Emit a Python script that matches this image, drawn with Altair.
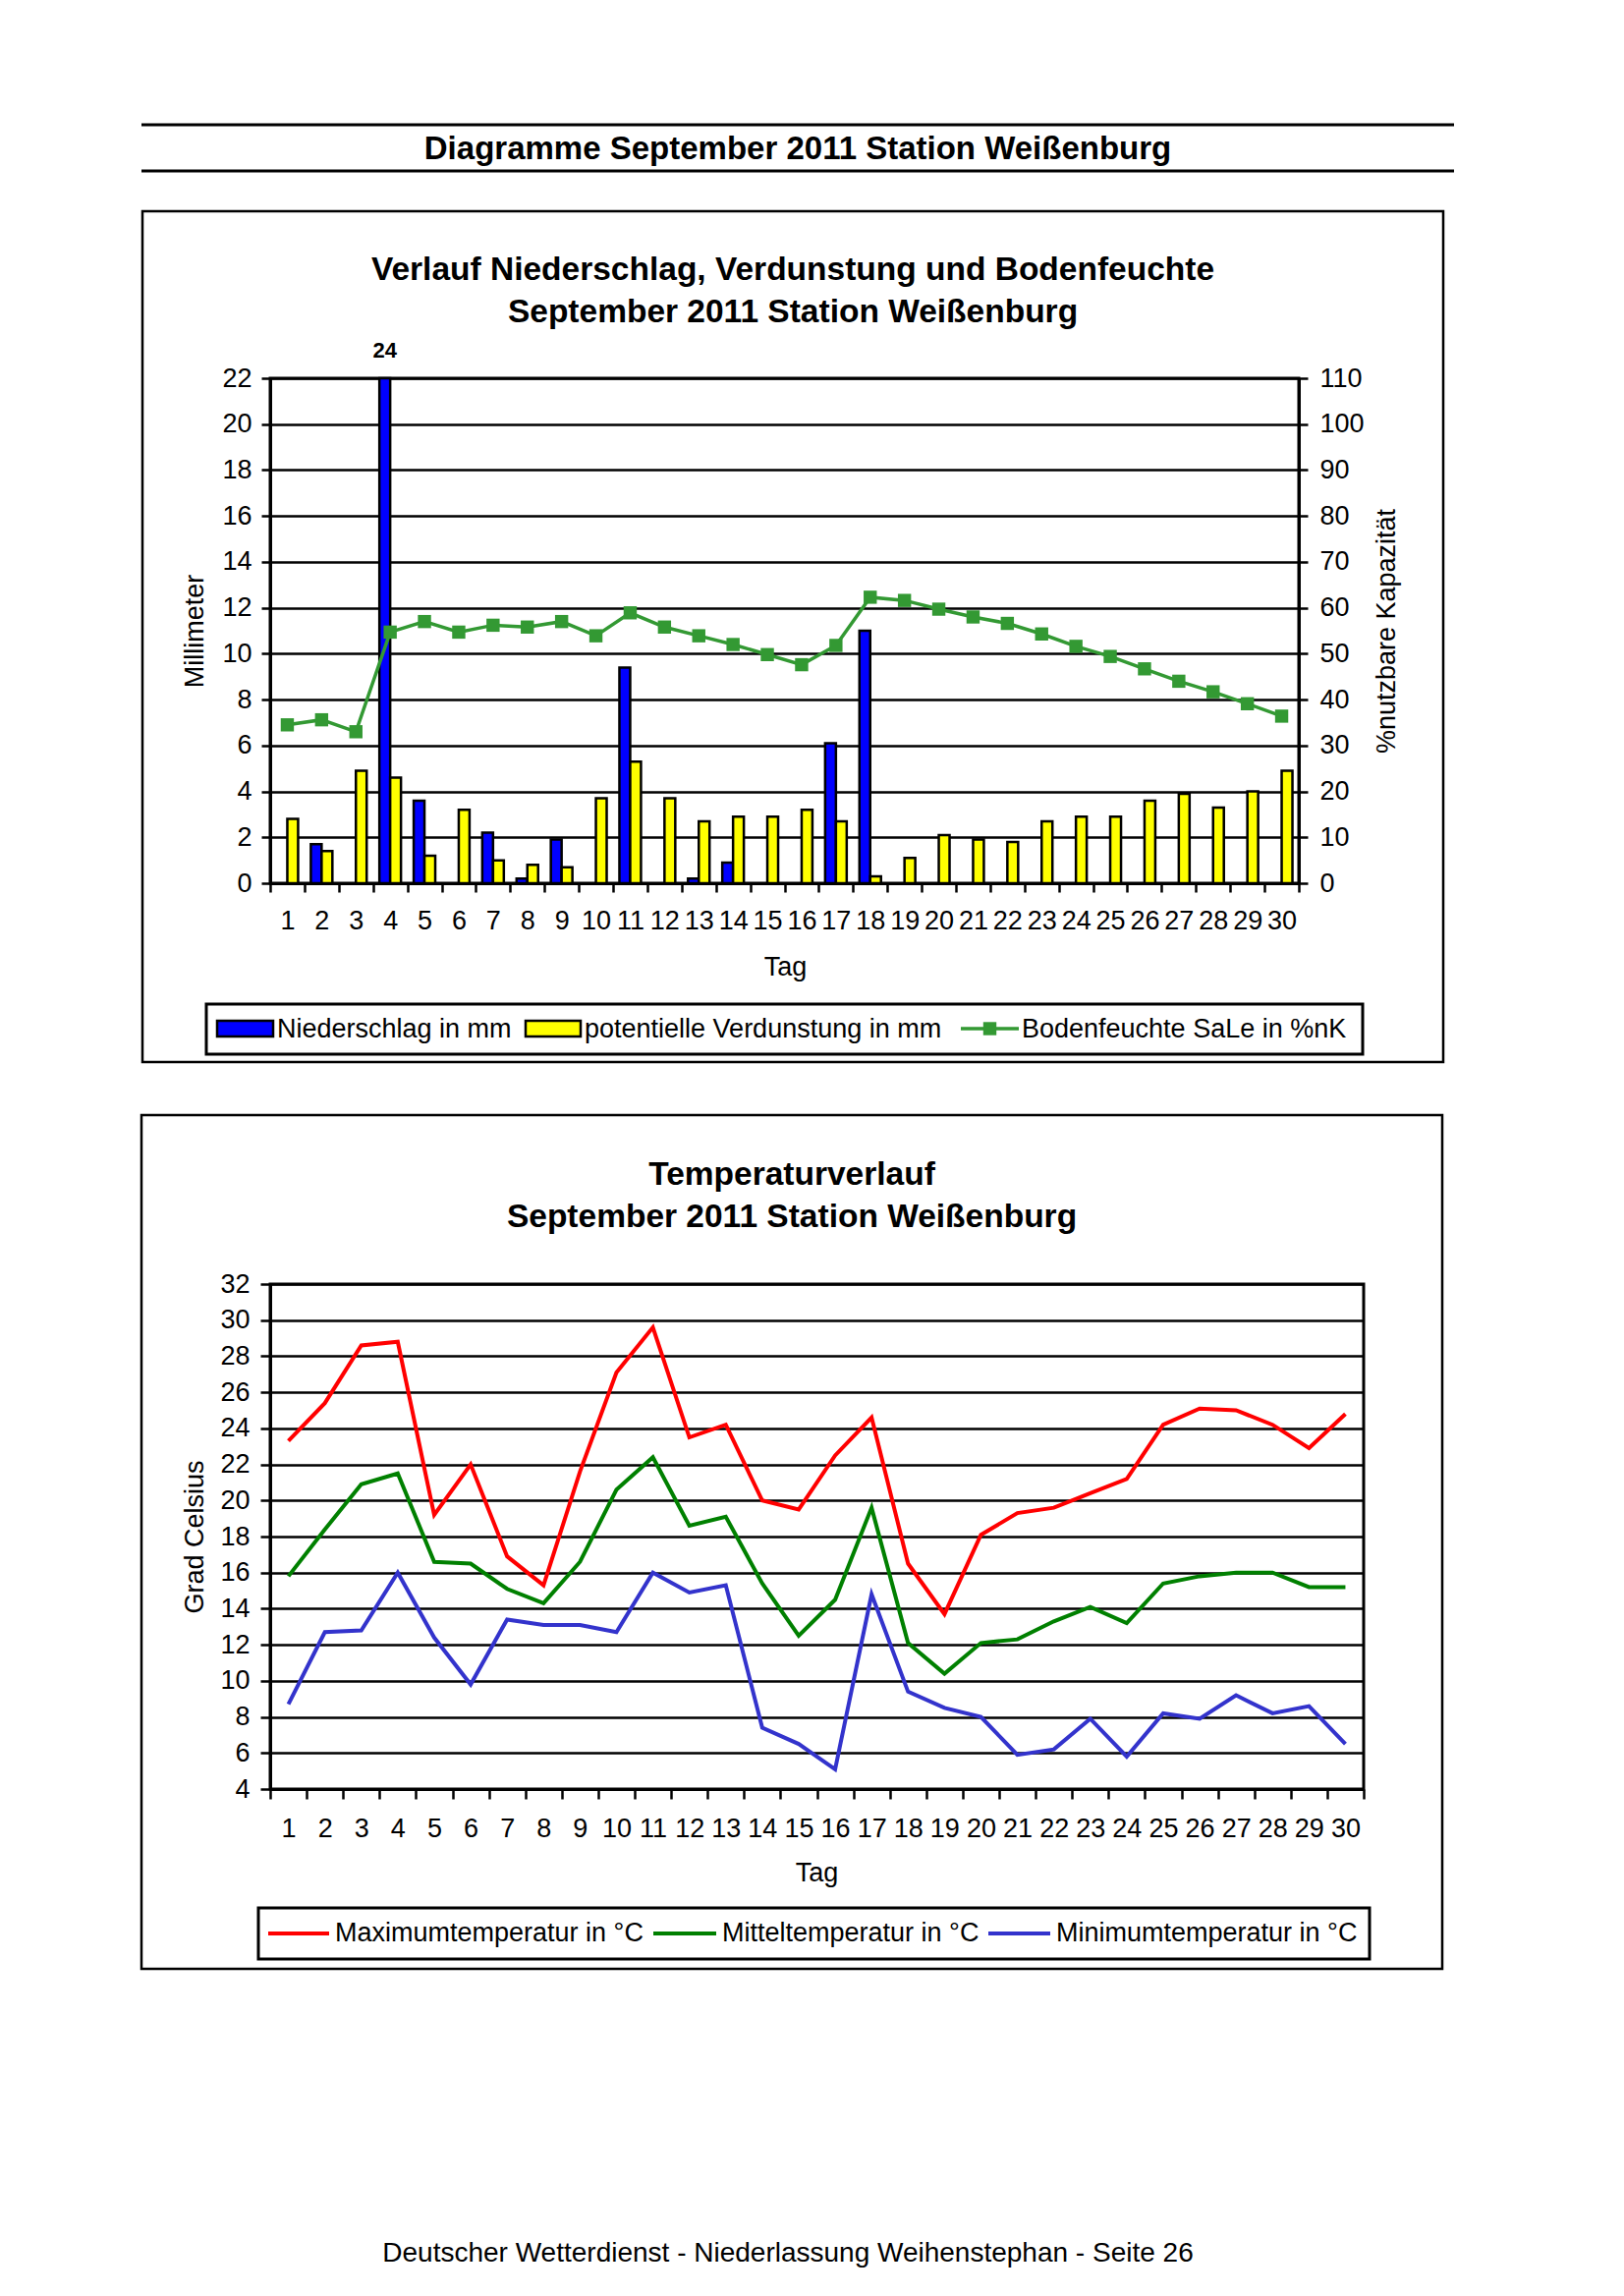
import altair as alt
import pandas as pd

# ---------------- data ----------------
days = list(range(1, 31))
niederschlag = [0, 1.7, 0, 24, 3.6, 0, 2.2, 0.2, 1.9, 0, 9.4, 0, 0.2, 0.9, 0,
                0, 6.1, 11.0, 0, 0, 0, 0, 0, 0, 0, 0, 0, 0, 0, 0]
verdunstung = [2.8, 1.4, 4.9, 4.6, 1.2, 3.2, 1.0, 0.8, 0.7, 3.7, 5.3, 3.7, 2.7, 2.9, 2.9,
               3.2, 2.7, 0.3, 1.1, 2.1, 1.9, 1.8, 2.7, 2.9, 2.9, 3.6, 3.9, 3.3, 4.0, 4.9]
bodenfeuchte = [34.5, 35.6, 33.0, 54.7, 57.0, 54.7, 56.2, 55.8, 57.0, 53.9, 58.9, 55.8, 53.9, 52.0, 49.8,
                47.6, 51.8, 62.3, 61.6, 59.7, 58.0, 56.6, 54.3, 51.6, 49.4, 46.7, 44.0, 41.7, 39.1, 36.4]
tmax = [23.3, 25.4, 28.6, 28.8, 19.2, 22.0, 16.9, 15.3, 21.6, 27.1, 29.6, 23.5, 24.2, 20.0, 19.5,
        22.5, 24.6, 16.5, 13.7, 18.1, 19.3, 19.6, 20.4, 21.2, 24.2, 25.1, 25.0, 24.2, 22.9, 24.8]
tmean = [15.8, 18.4, 20.9, 21.5, 16.6, 16.5, 15.1, 14.3, 16.6, 20.6, 22.4, 18.6, 19.1, 15.4, 12.5,
         14.5, 19.6, 12.1, 10.4, 12.1, 12.3, 13.3, 14.1, 13.2, 15.4, 15.8, 16.0, 16.0, 15.2, 15.2]
tmin = [8.7, 12.7, 12.8, 16.0, 12.4, 9.8, 13.4, 13.1, 13.1, 12.7, 16.0, 14.9, 15.3, 7.4, 6.5,
        5.1, 14.8, 9.4, 8.5, 8.0, 5.9, 6.2, 7.9, 5.8, 8.2, 7.9, 9.2, 8.2, 8.6, 6.5]

bar_names = ["Niederschlag in mm", "potentielle Verdunstung in mm"]
soil_name = "Bodenfeuchte SaLe in %nK"
temp_names = ["Maximumtemperatur in °C", "Mitteltemperatur in °C", "Minimumtemperatur in °C"]
bar_colors = ["#0000FF", "#FFFF00"]
soil_color = "#339933"
temp_colors = ["#FF0000", "#008000", "#3333CC"]

page_title = "Diagramme September 2011 Station Weißenburg"
title1 = ["Verlauf Niederschlag, Verdunstung und Bodenfeuchte", "September 2011 Station Weißenburg"]
title2 = ["Temperaturverlauf", "September 2011 Station Weißenburg"]
footer = "Deutscher Wetterdienst - Niederlassung Weihenstephan - Seite 26"
mm_ticks = list(range(0, 23, 2))
pct_ticks = list(range(0, 111, 10))
temp_ticks = list(range(4, 33, 2))

FONT = "Liberation Sans"
one = pd.DataFrame({"k": [0]})


# ---------------- decoration helpers ----------------
def spacer(x, x2, y, y2):
    return alt.Chart(one).mark_rect(fill="white", fillOpacity=0, strokeOpacity=0).encode(
        x=alt.value(x), x2=alt.value(x2), y=alt.value(y), y2=alt.value(y2))


def box(x, x2, y, y2, sw=2.5, fill="white", fill_opacity=0.0):
    return alt.Chart(one).mark_rect(fill=fill, fillOpacity=fill_opacity, stroke="black", strokeWidth=sw).encode(
        x=alt.value(x), x2=alt.value(x2), y=alt.value(y), y2=alt.value(y2))


def hline(x, x2, y, color="black", sw=3):
    return alt.Chart(one).mark_rule(color=color, strokeWidth=sw).encode(
        x=alt.value(x), x2=alt.value(x2), y=alt.value(y))


def label(x, y, txt, size=27, bold=False, align="left"):
    return alt.Chart(one).mark_text(font=FONT, fontSize=size, fontWeight="bold" if bold else "normal",
                                    align=align, baseline="alphabetic", color="black").encode(
        x=alt.value(x), y=alt.value(y), text=alt.value(txt))


# ---------------- chart 1 ----------------
bars_df = pd.DataFrame({
    "Tag": days * 2,
    "Reihe": [bar_names[0]] * 30 + [bar_names[1]] * 30,
    "Wert": niederschlag + verdunstung,
})
soil_df = pd.DataFrame({"Tag": days, "Feuchte": bodenfeuchte})

x1 = alt.X("Tag:O", title="Tag", scale=alt.Scale(paddingInner=0, paddingOuter=0),
           axis=alt.Axis(labelAngle=0, tickBand="extent", tickSize=9, labelPadding=16, grid=False,
                         titleX=524, titleY=93, titleBaseline="alphabetic"))
xoff = alt.XOffset("Reihe:N", scale=alt.Scale(domain=bar_names, paddingInner=0, paddingOuter=0.59))
mm_scale = alt.Scale(domain=[0, 22], nice=False, clamp=True)

bars = alt.Chart(bars_df).transform_filter("datum.Wert > 0").mark_bar(
    stroke="black", strokeWidth=2.5).encode(
    x=x1,
    xOffset=xoff,
    y=alt.Y("Wert:Q", title="Millimeter", scale=mm_scale,
            axis=alt.Axis(values=mm_ticks, tickSize=9, labelPadding=10, grid=True,
                          titleX=-69, titleY=257, titleBaseline="alphabetic", titleAngle=270)),
    color=alt.Color("Reihe:N", scale=alt.Scale(domain=bar_names, range=bar_colors), legend=None),
)

over = alt.Chart(bars_df).transform_filter("datum.Wert > 22").mark_text(
    font=FONT, fontSize=22, fontWeight="bold", baseline="middle", dy=-28, color="black").encode(
    x=x1,
    xOffset=xoff,
    y=alt.Y("Wert:Q", scale=mm_scale, axis=None),
    text=alt.Text("Wert:Q", format="d"),
)

soil = alt.Chart(soil_df).mark_line(
    color=soil_color, strokeWidth=3.5,
    point=alt.OverlayMarkDef(shape="square", size=180, filled=True, color=soil_color, opacity=1)).encode(
    x=x1,
    y=alt.Y("Feuchte:Q", title="%nutzbare Kapazität", scale=alt.Scale(domain=[0, 110], nice=False),
            axis=alt.Axis(orient="right", values=pct_ticks, tickSize=9, labelPadding=12, grid=False,
                          titleX=97, titleY=257, titleBaseline="alphabetic", titleAngle=270)),
)

legend1 = [
    box(-65, 1112, 637, 688, sw=3),
    box(-54, 3, 654, 670, sw=2.5, fill=bar_colors[0], fill_opacity=1),
    label(7, 671, bar_names[0]),
    box(260, 316, 654, 670, sw=2.5, fill=bar_colors[1], fill_opacity=1),
    label(320, 671, bar_names[1]),
    hline(703, 762, 662, color=soil_color, sw=3.5),
    alt.Chart(one).mark_point(shape="square", size=180, filled=True, color=soil_color, opacity=1).encode(
        x=alt.value(732.5), y=alt.value(662)),
    label(765, 671, soil_name),
]

chart1 = alt.layer(
    spacer(-264, 1300, -375.5, 715),
    hline(-131, 1205, -258), hline(-131, 1205, -211),
    label(537, -223, page_title, 33, True, "center"),
    box(-130, 1194, -170, 696, sw=2.5),
    label(532, -100, title1[0], 33.5, True, "center"),
    label(532, -57, title1[1], 33.5, True, "center"),
    bars, over, soil,
    *legend1,
).resolve_scale(y="independent").properties(width=1047, height=514)

# ---------------- chart 2 ----------------
temp_df = pd.DataFrame({
    "Tag": days * 3,
    "Messreihe": [temp_names[0]] * 30 + [temp_names[1]] * 30 + [temp_names[2]] * 30,
    "Temperatur": tmax + tmean + tmin,
})

x2 = alt.X("Tag:O", title="Tag", scale=alt.Scale(paddingInner=0, paddingOuter=0),
           axis=alt.Axis(labelAngle=0, tickBand="extent", tickSize=10, labelPadding=17, grid=False,
                         titleX=556, titleY=93.5, titleBaseline="alphabetic"))

lines = alt.Chart(temp_df).mark_line(strokeWidth=4).encode(
    x=x2,
    y=alt.Y("Temperatur:Q", title="Grad Celsius", scale=alt.Scale(domain=[4, 32], nice=False),
            axis=alt.Axis(values=temp_ticks, tickSize=10, labelPadding=11, grid=True,
                          titleX=-69, titleY=257, titleBaseline="alphabetic", titleAngle=270)),
    color=alt.Color("Messreihe:N", scale=alt.Scale(domain=temp_names, range=temp_colors), legend=None),
)

legend2 = [
    box(-12, 1119, 635, 687, sw=3),
    hline(-2, 60, 661, color=temp_colors[0], sw=4),
    label(66, 669, temp_names[0]),
    hline(390, 454, 661, color=temp_colors[1], sw=4),
    label(460, 669, temp_names[1]),
    hline(731, 794, 661, color=temp_colors[2], sw=4),
    label(800, 669, temp_names[2]),
]

chart2 = alt.layer(
    spacer(-265, 1300, -203, 1010),
    box(-131, 1193, -172, 697, sw=2.5),
    label(531, -101, title2[0], 33.5, True, "center"),
    label(531, -58, title2[1], 33.5, True, "center"),
    lines,
    *legend2,
    label(527, 995, footer, 28, False, "center"),
).properties(width=1113, height=514)

page = alt.vconcat(chart1, chart2, spacing=0).properties(padding=0).resolve_scale(
    color="independent"
).configure_view(
    stroke="black", strokeWidth=3
).configure_axis(
    labelFont=FONT, labelFontSize=27, labelColor="black",
    titleFont=FONT, titleFontSize=27, titleFontWeight="normal", titleColor="black",
    domainColor="black", domainWidth=3, tickColor="black", tickWidth=2.5,
    gridColor="black", gridWidth=2.6, gridOpacity=1,
)

page.save("out.html", embed_options={"renderer": "svg", "actions": False})
